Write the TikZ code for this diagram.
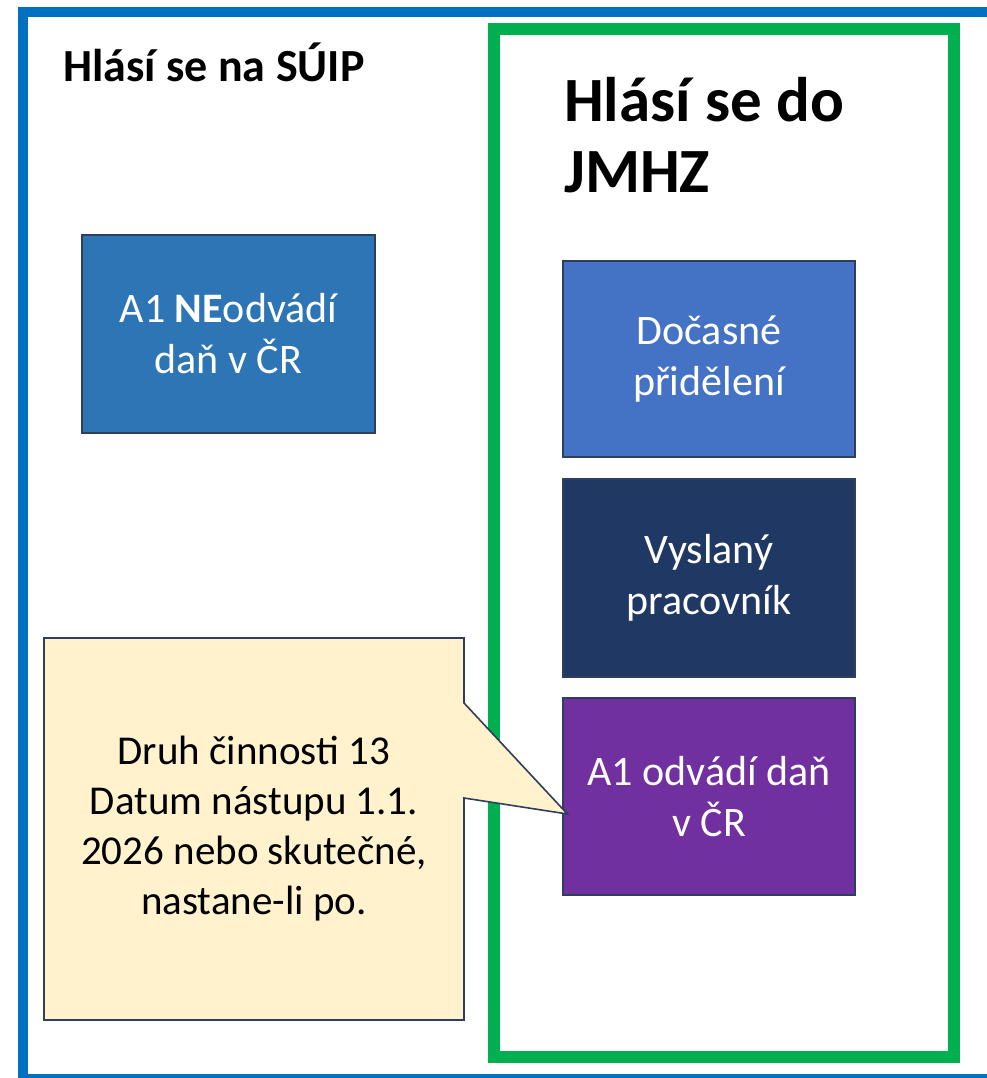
\documentclass[tikz,border=0pt]{standalone}
\usepackage{fontspec}
\setmainfont{Carlito}
\usetikzlibrary{calc}
\definecolor{frameblue}{HTML}{0070C0}
\definecolor{framegreen}{HTML}{00B050}
\definecolor{boxblue}{HTML}{2E75B6}
\definecolor{boxlight}{HTML}{4472C4}
\definecolor{boxnavy}{HTML}{203864}
\definecolor{boxpurple}{HTML}{7030A0}
\definecolor{notefill}{HTML}{FFF2CC}
\definecolor{edge}{HTML}{2F3E5E}
\tikzset{
  panel/.style={draw=edge, line width=1.2pt, text=white, align=center,
    minimum width=292, minimum height=197, inner sep=0pt,
    font=\fontsize{42}{51}\selectfont},
  heading/.style={anchor=base west, inner sep=0pt, font=\bfseries},
  notetext/.style={align=center, inner sep=0pt, text=black,
    font=\fontsize{41}{50}\selectfont},
  noteshape/.style={fill=notefill, draw=edge, line width=1.6pt, line join=miter},
}
\begin{document}
\begin{tikzpicture}[x=1pt,y=-1pt]
  % page area
  \fill[white] (0,0) rectangle (986,1078);
  \useasboundingbox (0,0) rectangle (986,1078);

  % outer blue frame (runs past the right and bottom edges)
  \draw[frameblue, line width=10] (23,12) rectangle (1010,1079);
  % green frame of the JMHZ group
  \draw[framegreen, line width=11.5] (494,29) rectangle (954,1057);

  % headings
  \node[heading, font=\bfseries\fontsize{46}{55}\selectfont] (hsuip) at (63,82) {Hlásí se na SÚIP};
  \node[heading, font=\bfseries\fontsize{63}{72}\selectfont] (hj1) at (564,122) {Hlásí se do};
  \node[heading, font=\bfseries\fontsize{63}{72}\selectfont] (hj2) at (564,193) {JMHZ};

  % boxes
  \node[panel, fill=boxblue, minimum width=293, minimum height=198] (ne) at (228.5,334) {A1 \textbf{NE}odvádí\\daň v ČR};
  \node[panel, fill=boxlight, minimum height=196] (doc) at (709,359) {Dočasné\\přidělení};
  \node[panel, fill=boxnavy, minimum height=198] (vys) at (709,578) {Vyslaný\\pracovník};
  \node[panel, fill=boxpurple] (odv) at (709,796.5) {A1 odvádí daň\\v ČR};

  % callout pointing at the purple box
  \coordinate (cnw) at (44,638);
  \coordinate (cse) at (464,1020);
  \coordinate (tip) at ($(odv.west)+(5,17.5)$);
  \draw[noteshape] (cnw) -- (cse |- cnw) -- (464,703) -- (tip) -- (464,798)
    -- (cse) -- (cnw |- cse) -- cycle;
  \node[notetext] (note) at ($(cnw)!0.5!(cse)$)
    {Druh činnosti 13\\Datum nástupu 1.1.\\2026 nebo skutečné,\\nastane-li po.};
\end{tikzpicture}
\end{document}
